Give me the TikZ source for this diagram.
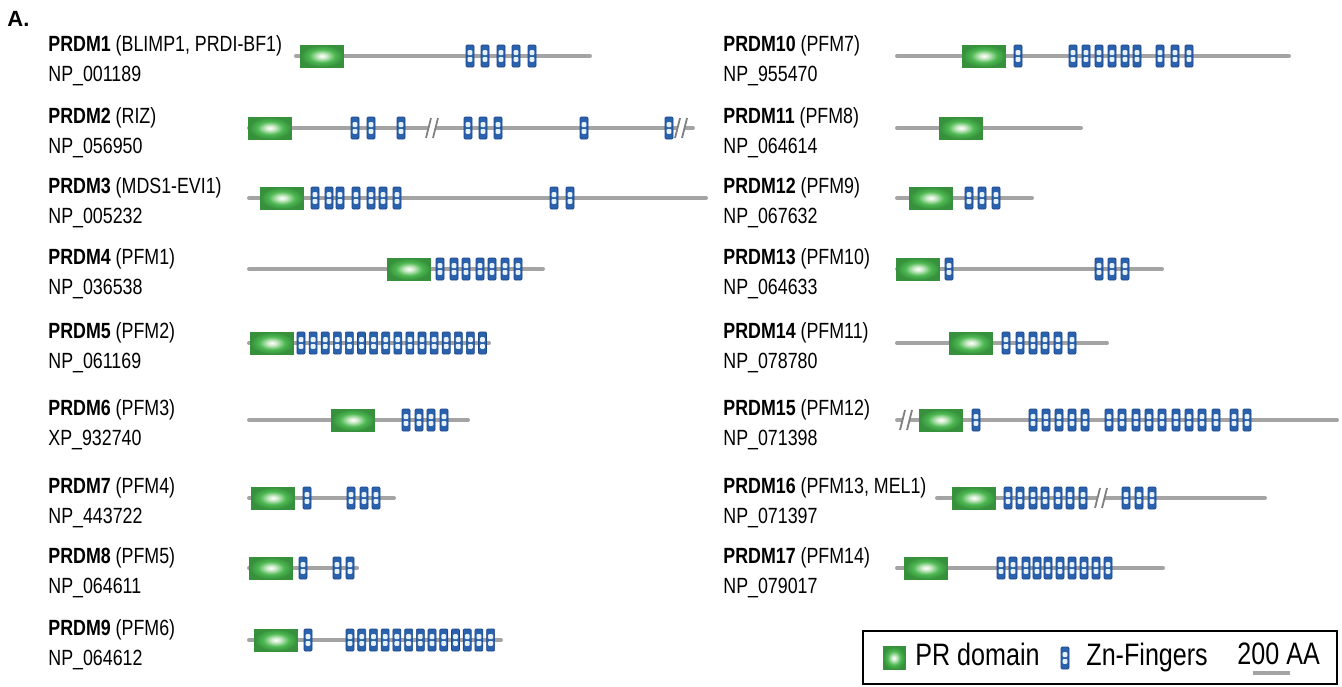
\documentclass[tikz,border=0pt]{standalone}
\usepackage{fontspec}
\setmainfont{Liberation Sans}[FakeStretch=0.81]
\newfontfamily\panelfont{Liberation Sans}
\usetikzlibrary{positioning}

\definecolor{bbgray}{HTML}{A4A4A4}
\definecolor{brkgray}{HTML}{808080}
\definecolor{prlight}{HTML}{D2EDCF}
\definecolor{prgreen}{HTML}{4DB851}
\definecolor{prdark}{HTML}{36903C}
\definecolor{zfblue}{HTML}{2A62AE}
\definecolor{zfdark}{HTML}{1A4584}
\definecolor{zflight}{HTML}{E6F0FA}

\pgfdeclareradialshading{prglow}{\pgfpoint{0bp}{0bp}}{color(0bp)=(white); color(5bp)=(prlight); color(15bp)=(prgreen); color(25bp)=(prdark); color(50bp)=(prdark)}

\tikzset{
  backbone/.style={line width=2pt, color=bbgray, line cap=round},
  prdomain/.style={rectangle, draw=prdark, line width=0.4pt, shading=prglow,
    minimum width=21.5pt, minimum height=11pt, inner sep=0pt},
  zinc/.style={rectangle, rounded corners=0.5pt, fill=zfblue, draw=zfdark, line width=0.3pt,
    minimum width=4pt, minimum height=11pt, inner sep=0pt,
    path picture={
      \fill[zflight] ([xshift=-1.2pt,yshift=0.5pt]path picture bounding box.center) rectangle ([xshift=1.2pt,yshift=2.9pt]path picture bounding box.center);
      \fill[zflight] ([xshift=-1.2pt,yshift=-2.9pt]path picture bounding box.center) rectangle ([xshift=1.2pt,yshift=-0.5pt]path picture bounding box.center);
    }},
  brk/.style={draw=brkgray, line width=0.9pt},
  lbl/.style={anchor=base west, inner sep=0pt, font=\fontsize{11}{13}\selectfont},
  keytext/.style={anchor=base west, inner sep=0pt, font=\fontsize{15.5}{18}\selectfont},
}

% cut mark "//" on a backbone at (x,y)
\newcommand{\seqcut}[2]{%
  \fill[white] (#1-4.5,#2+4) -- (#1+2.5,#2+4) -- (#1+4.5,#2-4) -- (#1-2.5,#2-4) -- cycle;
  \draw[brk] (#1-6,#2+10) -- (#1-1,#2-10) (#1+1,#2+10) -- (#1+6,#2-10);}

\begin{document}
\begin{tikzpicture}[x=0.5pt,y=-0.5pt]
  \useasboundingbox (0,0) rectangle (1342,686);
  \node[anchor=west, inner sep=0pt, font=\panelfont\bfseries\fontsize{11}{13}\selectfont] (tag) at (7,19) {A.};

  \foreach \i/\alias/\acc/\y in {1/{BLIMP1, PRDI-BF1}/NP\_001189/56, 2/RIZ/NP\_056950/128,
      3/MDS1-EVI1/NP\_005232/198, 4/PFM1/NP\_036538/269, 5/PFM2/NP\_061169/343,
      6/PFM3/XP\_932740/420, 7/PFM4/NP\_443722/498, 8/PFM5/NP\_064611/568, 9/PFM6/NP\_064612/640} {
    \node[lbl] (name\i) at (48,\y-5) {\textbf{PRDM\i} (\alias)};
    \node[lbl] (acc\i) at (48,\y+25) {\acc};
  }
  \foreach \i/\alias/\acc/\y in {10/PFM7/NP\_955470/56, 11/PFM8/NP\_064614/128, 12/PFM9/NP\_067632/198,
      13/PFM10/NP\_064633/269, 14/PFM11/NP\_078780/343, 15/PFM12/NP\_071398/420,
      16/{PFM13, MEL1}/NP\_071397/498, 17/PFM14/NP\_079017/568} {
    \node[lbl] (name\i) at (723,\y-5) {\textbf{PRDM\i} (\alias)};
    \node[lbl] (acc\i) at (723,\y+25) {\acc};
  }

  % PRDM1
  \draw[backbone] (296,56) -- (590,56);
  \node[prdomain] (pr1) at (322,56) {};
  \foreach \x in {470,485,501,516,532} \node[zinc] (zf1-\x) at (\x,56) {};
  % PRDM2
  \draw[backbone] (249,128) -- (693,128);
  \seqcut{432}{128} \seqcut{681}{128}
  \node[prdomain] (pr2) at (270,128) {};
  \foreach \x in {355,371,401,468,483,498,584,669} \node[zinc] (zf2-\x) at (\x,128) {};
  % PRDM3
  \draw[backbone] (249,198) -- (706,198);
  \node[prdomain] (pr3) at (282,198) {};
  \foreach \x in {315,329,340,356,371,383,397,554,570} \node[zinc] (zf3-\x) at (\x,198) {};
  % PRDM4
  \draw[backbone] (249,269) -- (543,269);
  \node[prdomain] (pr4) at (409,269) {};
  \foreach \x in {440,454,466,480,492,505,518} \node[zinc] (zf4-\x) at (\x,269) {};
  % PRDM5
  \draw[backbone] (249,343) -- (489,343);
  \node[prdomain] (pr5) at (272,343) {};
  \foreach \k in {0,...,15} \node[zinc] (zf5-\k) at (301+12.1*\k,343) {};
  % PRDM6
  \draw[backbone] (249,420) -- (468,420);
  \node[prdomain] (pr6) at (353,420) {};
  \foreach \x in {406,419,431,444} \node[zinc] (zf6-\x) at (\x,420) {};
  % PRDM7
  \draw[backbone] (249,498) -- (394,498);
  \node[prdomain] (pr7) at (273,498) {};
  \foreach \x in {307,351,364,376} \node[zinc] (zf7-\x) at (\x,498) {};
  % PRDM8
  \draw[backbone] (249,568) -- (357,568);
  \node[prdomain] (pr8) at (271,568) {};
  \foreach \x in {303,337,350} \node[zinc] (zf8-\x) at (\x,568) {};
  % PRDM9
  \draw[backbone] (249,640) -- (501,640);
  \node[prdomain] (pr9) at (276,640) {};
  \node[zinc] (zf9-a) at (308,640) {};
  \foreach \k in {0,...,12} \node[zinc] (zf9-\k) at (350+11.72*\k,640) {};

  % PRDM10
  \draw[backbone] (897,56) -- (1289,56);
  \node[prdomain] (pr10) at (984,56) {};
  \foreach \x in {1018,1073,1086,1099,1112,1125,1137,1160,1175,1189} \node[zinc] (zf10-\x) at (\x,56) {};
  % PRDM11
  \draw[backbone] (897,128) -- (1081,128);
  \node[prdomain] (pr11) at (961,128) {};
  % PRDM12
  \draw[backbone] (897,198) -- (1032,198);
  \node[prdomain] (pr12) at (931,198) {};
  \foreach \x in {969,982,996} \node[zinc] (zf12-\x) at (\x,198) {};
  % PRDM13
  \draw[backbone] (897,269) -- (1162,269);
  \node[prdomain] (pr13) at (918,269) {};
  \foreach \x in {949,1099,1112,1125} \node[zinc] (zf13-\x) at (\x,269) {};
  % PRDM14
  \draw[backbone] (897,343) -- (1107,343);
  \node[prdomain] (pr14) at (971,343) {};
  \foreach \x in {1006,1020,1033,1045,1058,1072} \node[zinc] (zf14-\x) at (\x,343) {};
  % PRDM15
  \draw[backbone] (897,420) -- (1337,420);
  \seqcut{906}{420}
  \node[prdomain] (pr15) at (941,420) {};
  \foreach \x in {976,1033,1046,1059,1072,1085,1109,1122,1136,1149,1162,1176,1189,1202,1216,1234,1247}
    \node[zinc] (zf15-\x) at (\x,420) {};
  % PRDM16
  \draw[backbone] (937,498) -- (1265,498);
  \seqcut{1101}{498}
  \node[prdomain] (pr16) at (974,498) {};
  \foreach \x in {1008,1020,1033,1045,1058,1070,1083,1126,1139,1152} \node[zinc] (zf16-\x) at (\x,498) {};
  % PRDM17
  \draw[backbone] (897,568) -- (1163,568);
  \node[prdomain] (pr17) at (926,568) {};
  \foreach \x in {1001,1013,1026,1037,1048,1060,1072,1084,1096,1108} \node[zinc] (zf17-\x) at (\x,568) {};

  % key
  \draw[line width=1pt] (863,631) rectangle (1337,684);
  \node[prdomain, minimum width=11pt, minimum height=11.5pt] (keypr) at (894,658) {};
  \node[keytext] (keyprtext) at (915,665) {PR domain};
  \node[zinc] (keyzf) at (1065,658) {};
  \node[keytext] (keyzftext) at (1086,665) {Zn-Fingers};
  \node[keytext] (scaletext) at (1237,664) {200 AA};
  \coordinate (scalea) at (1253,673);
  \coordinate (scaleb) at (1290,673);
  \draw[backbone, line cap=butt] (scalea) -- (scaleb);
\end{tikzpicture}
\end{document}
